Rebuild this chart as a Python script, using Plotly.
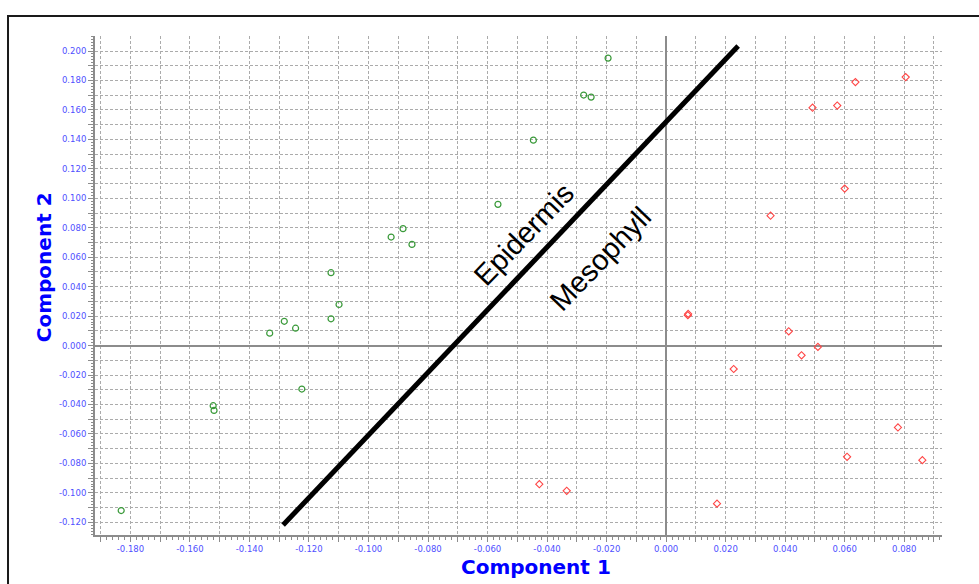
import plotly.graph_objects as go

# PLS-DA style score plot: component 1 vs component 2
epidermis_x = [-0.0195, -0.0277, -0.0252, -0.0446, -0.0565, -0.0884, -0.0924, -0.0854,
               -0.1126, -0.1099, -0.1126, -0.1283, -0.1245, -0.1332, -0.1224, -0.1522,
               -0.1519, -0.1831]
epidermis_y = [0.1952, 0.1701, 0.1687, 0.1395, 0.0959, 0.0794, 0.0737, 0.0687,
               0.0495, 0.0279, 0.0182, 0.0165, 0.0118, 0.0084, -0.0295, -0.0408,
               -0.0440, -0.1120]

mesophyll_x = [0.0636, 0.0805, 0.0492, 0.0575, 0.0600, 0.0351, 0.0074, 0.0073,
               0.0412, 0.0510, 0.0455, 0.0227, 0.0779, 0.0608, 0.0861, -0.0426,
               -0.0334, 0.0171]
mesophyll_y = [0.1789, 0.1823, 0.1615, 0.1630, 0.1066, 0.0882, 0.0215, 0.0206,
               0.0097, -0.0009, -0.0066, -0.0159, -0.0556, -0.0755, -0.0778, -0.0941,
               -0.0986, -0.1073]

# hand-drawn class separator
divider_x = [-0.1287, 0.0242]
divider_y = [-0.1218, 0.2034]

x_tickvals = [round(-0.19 + 0.01 * i, 3) for i in range(29)]
x_ticktext = [f"{v:.3f}" if round(v * 1000) % 20 == 0 else "" for v in x_tickvals]
y_tickvals = [round(-0.12 + 0.01 * i, 3) for i in range(33)]
y_ticktext = [f"{v:.3f}" if round(v * 1000) % 20 == 0 else "" for v in y_tickvals]

label_font = dict(family="DejaVu Sans, sans-serif", size=8.5, color="#4f4fff")
title_font = dict(family="DejaVu Sans, sans-serif", size=20, color="#0000ff")
region_font = dict(family="Arial, Liberation Sans, sans-serif", size=29, color="black")

fig = go.Figure()

fig.add_trace(go.Scatter(
    x=divider_x, y=divider_y, mode="lines",
    line=dict(color="black", width=5), hoverinfo="skip", showlegend=False))

fig.add_trace(go.Scatter(
    x=epidermis_x, y=epidermis_y, mode="markers", name="Epidermis",
    marker=dict(symbol="circle-open", size=6, color="#3a9a3a", line=dict(width=1.2))))

fig.add_trace(go.Scatter(
    x=mesophyll_x, y=mesophyll_y, mode="markers", name="Mesophyll",
    marker=dict(symbol="diamond-open", size=5.5, color="#ff4545", line=dict(width=1.1))))

axis_common = dict(
    automargin=False,
    showgrid=True, gridcolor="#ababab", griddash="3px,2px", gridwidth=1,
    zeroline=True, zerolinecolor="#8c8c8c", zerolinewidth=1.5,
    showline=True, linecolor="#8c8c8c", linewidth=2,
    ticks="outside", ticklen=5, tickcolor="#8c8c8c", tickwidth=1,
    tickmode="array", tickfont=label_font,
    minor=dict(dtick=0.002, ticks="outside", ticklen=2.5, tickcolor="#8c8c8c",
               tickwidth=1, showgrid=False),
)

fig.update_xaxes(**axis_common, range=[-0.1919, 0.0927],
                 tickvals=x_tickvals, ticktext=x_ticktext)
fig.update_yaxes(**axis_common, range=[-0.1286, 0.2102],
                 tickvals=y_tickvals, ticktext=y_ticktext)

# axis titles
fig.add_annotation(xref="paper", yref="paper", x=0.521, y=-0.065, yanchor="middle",
                   text="<b>Component 1</b>", showarrow=False, font=title_font)
fig.add_annotation(xref="paper", yref="paper", x=-0.060, y=0.537, xanchor="center",
                   text="<b>Component 2</b>", showarrow=False, textangle=-90, font=title_font)

# region labels on either side of the separator
fig.add_annotation(x=-0.0478, y=0.0760, text="Epidermis", showarrow=False,
                   textangle=-46, font=region_font)
fig.add_annotation(x=-0.0222, y=0.0590, text="Mesophyll", showarrow=False,
                   textangle=-46, font=region_font)

# outer frame around the chart
fig.add_shape(type="rect", xref="paper", yref="paper",
              x0=-0.1027, x1=1.2, y0=-0.3, y1=1.040,
              line=dict(color="#1a1a1a", width=2), layer="below")

fig.update_layout(
    template="none",
    width=979, height=584,
    margin=dict(l=95, r=37, t=36, b=49),
    paper_bgcolor="white", plot_bgcolor="white",
    showlegend=False,
)

fig.write_html("out.html")
